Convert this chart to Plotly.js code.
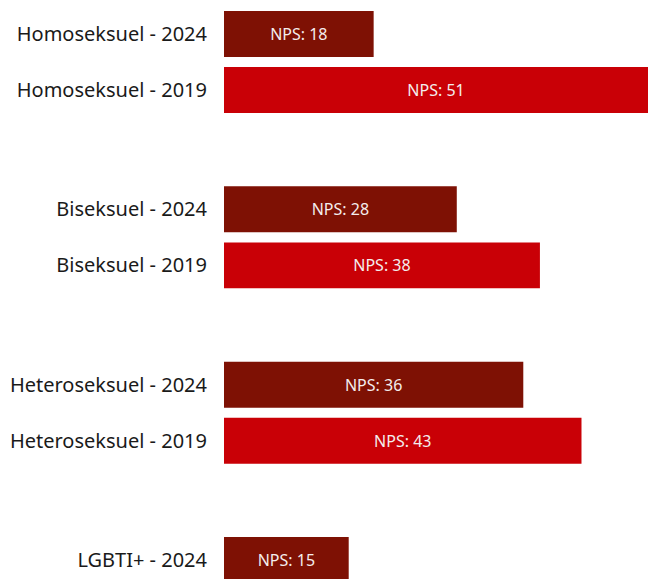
<!DOCTYPE html>
<html><head><meta charset="utf-8">
<script src="https://cdn.plot.ly/plotly-3.0.1.min.js"></script>
<style>html,body{margin:0;padding:0;background:#fff}#chart{width:648px;height:579px}</style>
</head><body><div id="chart"></div>
<script>
const groups = ["Homoseksuel", "Biseksuel", "Heteroseksuel", "LGBTI+"];
const years = ["2024", "2019"];
const nps2024 = [18, 28, 36, 15];
const nps2019 = [51, 38, 43, null];
const colors = {"2024": "#7e1104", "2019": "#c90006"};

const groupStep = 3.13;
function pos(g, yi) { return g * groupStep + yi; }

const traces = [];
const tickvals = [], ticktext = [];
years.forEach((yr, yi) => {
  const vals = yr === "2024" ? nps2024 : nps2019;
  const xs = [], ys = [];
  groups.forEach((g, gi) => {
    if (vals[gi] === null) return;
    xs.push(vals[gi]); ys.push(pos(gi, yi));
    tickvals.push(pos(gi, yi)); ticktext.push(g + " - " + yr);
  });
  traces.push({
    type: "bar", orientation: "h", x: xs, y: ys, width: 0.82,
    marker: {color: colors[yr]},
    texttemplate: "NPS: %{x}", textposition: "inside", insidetextanchor: "middle",
    textfont: {color: "#f4eded", size: 16, family: "Noto Sans"},
    hoverinfo: "none", showlegend: false
  });
});

const layout = {
  width: 648, height: 579,
  margin: {l: 224, r: 0, t: 0, b: 0, pad: 0},
  paper_bgcolor: "#fff", plot_bgcolor: "#fff",
  font: {family: "Noto Sans", color: "#1a1a1a"},
  barmode: "overlay",
  xaxis: {range: [0, 51], showgrid: false, zeroline: false, showticklabels: false, fixedrange: true},
  yaxis: {range: [9.729, -0.607], tickvals: tickvals, ticktext: ticktext, showgrid: false, zeroline: false,
          tickfont: {size: 20, color: "#1a1a1a", family: "Noto Sans"}, ticklabelstandoff: 16, ticks: ""}
};
Plotly.newPlot("chart", traces, layout, {staticPlot: true, displayModeBar: false});
</script></body></html>
